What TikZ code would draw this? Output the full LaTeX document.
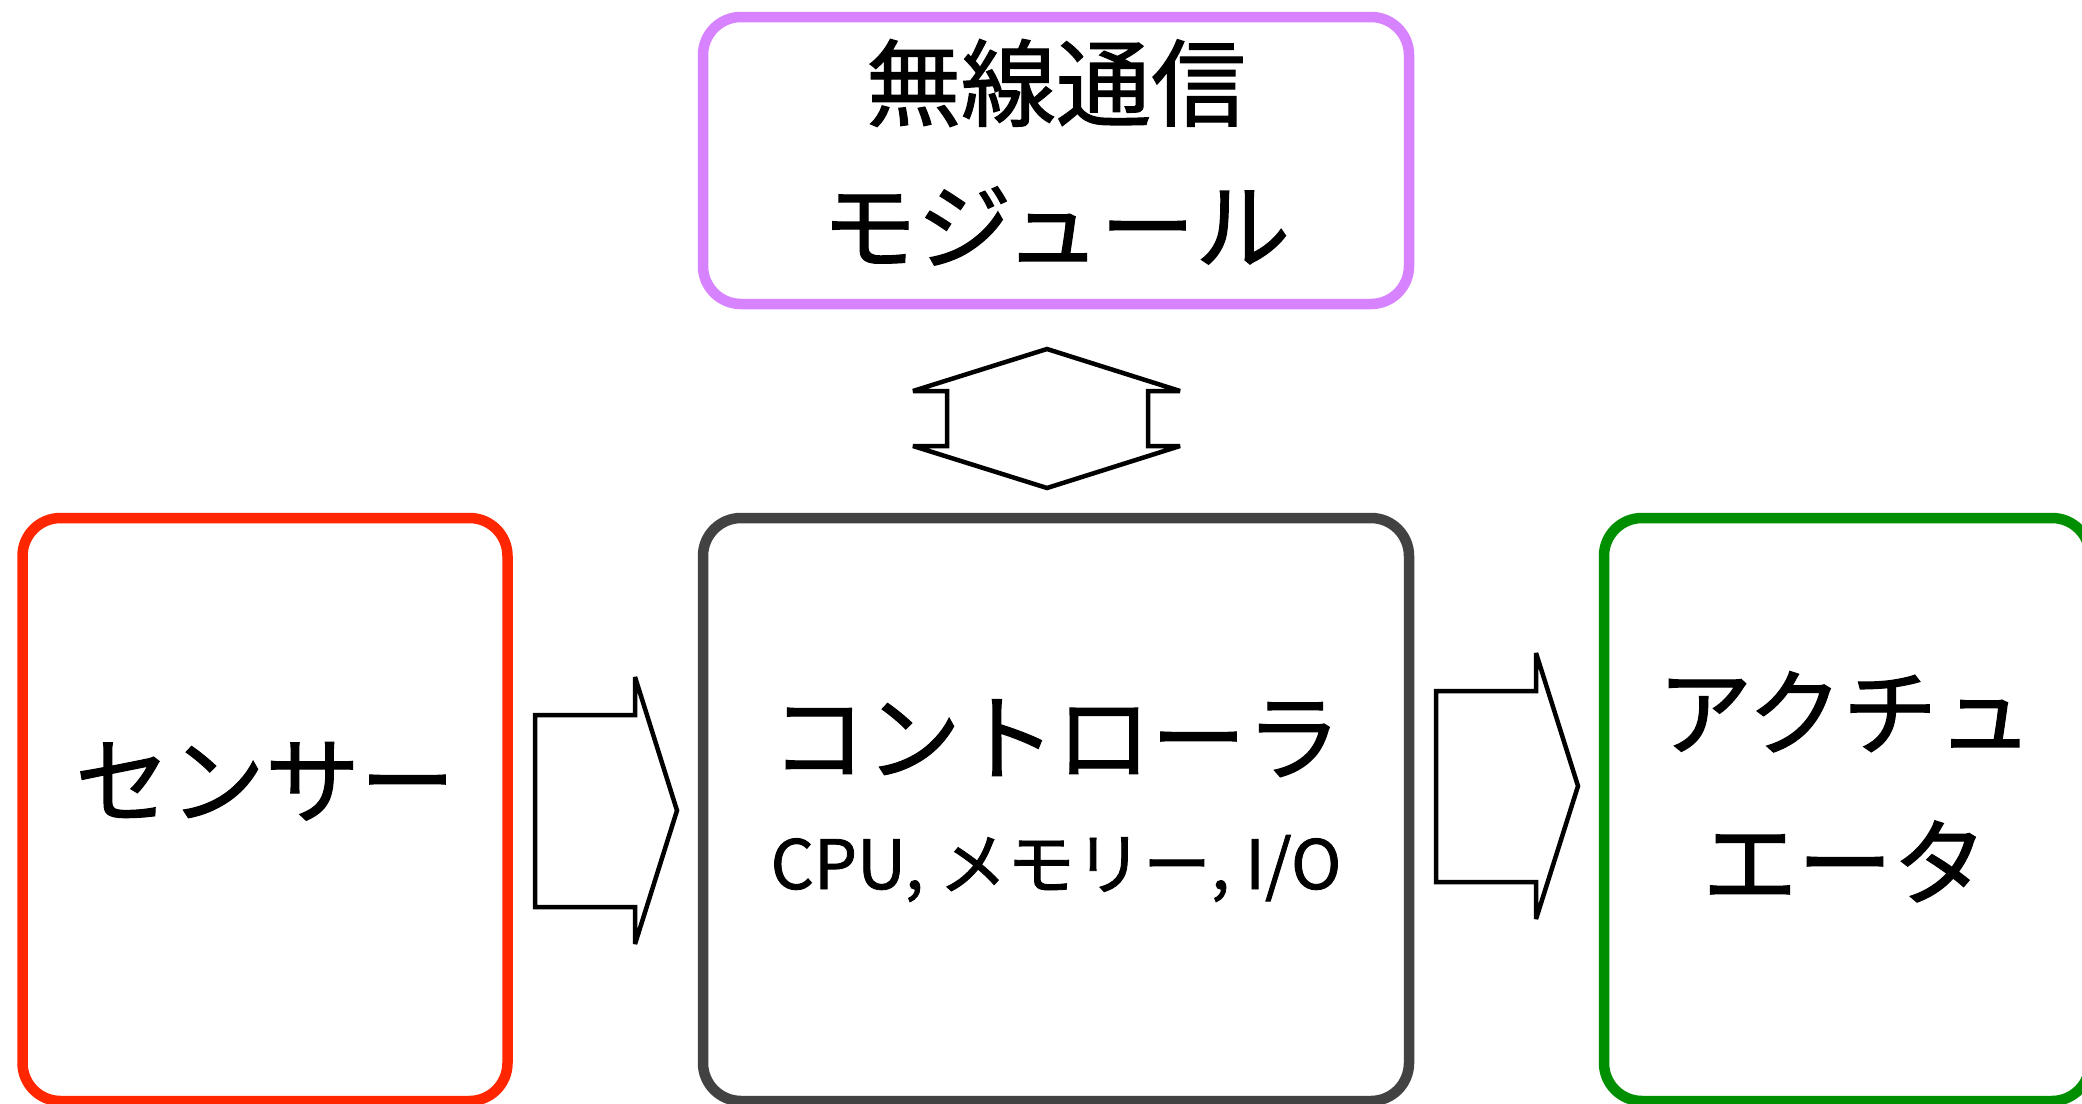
\documentclass[tikz,border=0pt]{standalone}
\usepackage{fontspec}
\newfontfamily\jp[FakeBold=1.2]{Noto Sans CJK JP}
\definecolor{senred}{RGB}{255,38,0}
\definecolor{wlpurple}{RGB}{215,131,255}
\definecolor{ctlgray}{RGB}{66,66,66}
\definecolor{actgreen}{RGB}{0,143,0}
\tikzset{
  box/.style={draw, rounded corners=38pt, line width=10.5pt, fill=none, inner sep=0pt, outer sep=0pt},
  big/.style={font=\jp\fontsize{95}{142}\selectfont, anchor=base, inner sep=0pt},
  small/.style={font=\jp\fontsize{68}{80}\selectfont, anchor=base, inner sep=0pt},
  blockarrow/.style={draw=black, line width=4.5pt, line join=miter, miter limit=1.5, fill=white}
}
\begin{document}
\begin{tikzpicture}[x=1pt,y=-1pt]
\useasboundingbox[fill=white] (0,0) rectangle (2082,1103);
% boxes
\node[box, draw=wlpurple, minimum width=706pt, minimum height=287pt] (wl) at (1056,160.5) {};
\node[box, draw=senred, minimum width=485pt, minimum height=583pt] (sen) at (265,809.5) {};
\node[box, draw=ctlgray, minimum width=706pt, minimum height=583pt] (ctl) at (1056,809.5) {};
\node[box, draw=actgreen, minimum width=486pt, minimum height=583pt] (act) at (1847,809.5) {};
% texts
\node[big] (wlA) at (1056,119) {無線通信};
\node[big] (wlB) at (1056,262) {モジュール};
\node[big] (senA) at (265,816) {センサー};
\node[big] (ctlA) at (1056,773) {コントローラ};
\node[small] (ctlB) at (1056,889) {CPU, メモリー, I/O};
\node[big] (actA) at (1845,748) {アクチュ};
\node[big] (actB) at (1845,898) {エータ};
% block arrows
\draw[blockarrow] (535,715) -- (635,715) -- (635,677) -- (677,810.5) -- (635,944) -- (635,907) -- (535,907) -- cycle;
\draw[blockarrow] (1436,691) -- (1536,691) -- (1536,653) -- (1578,786) -- (1536,919) -- (1536,882) -- (1436,882) -- cycle;
\draw[blockarrow] (1047,349) -- (1180,391) -- (1148,391) -- (1148,446) -- (1180,446) -- (1047,488) -- (913,446) -- (947,446) -- (947,391) -- (913,391) -- cycle;
\end{tikzpicture}
\end{document}
